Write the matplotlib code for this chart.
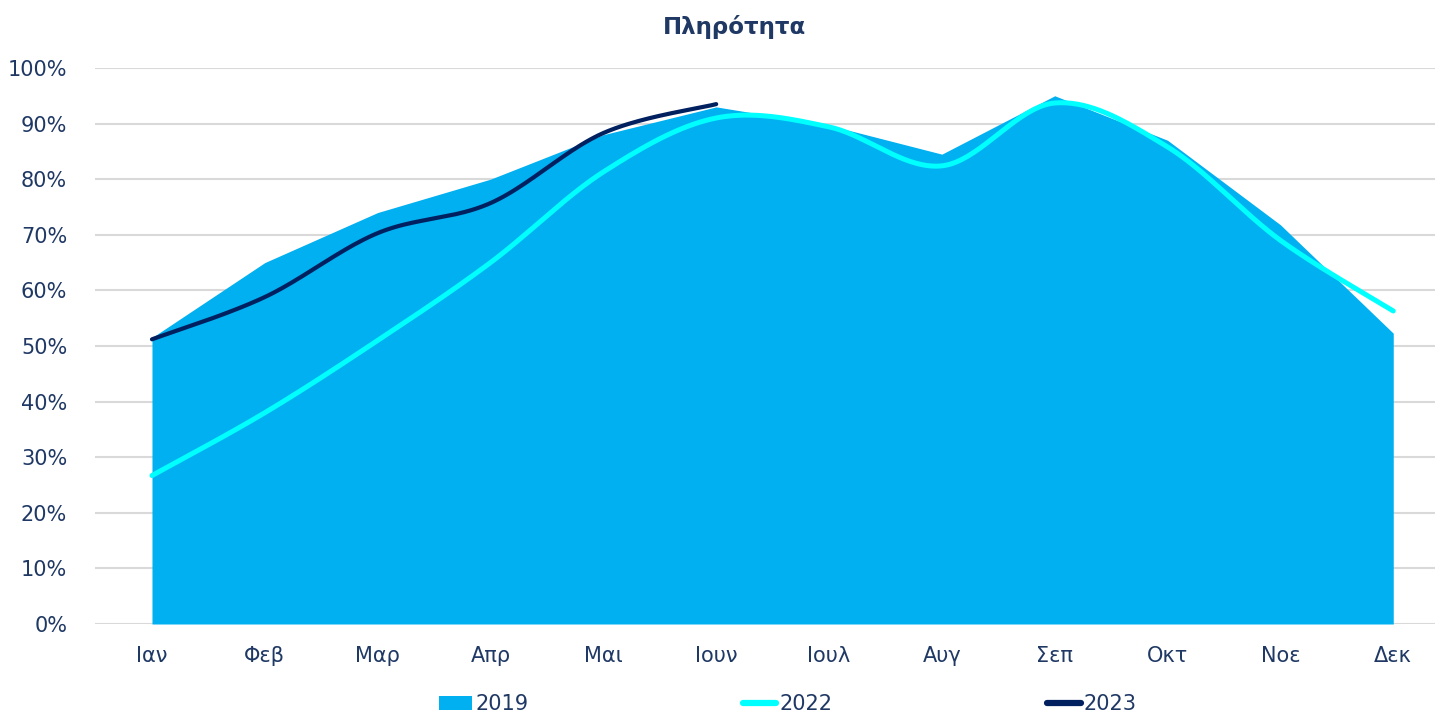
import matplotlib.pyplot as plt
import numpy as np

months = ["Ιαν", "Φεβ", "Μαρ", "Απρ", "Μαι", "Ιουν", "Ιουλ", "Αυγ", "Σεπ", "Οκτ", "Νοε", "Δεκ"]
occ_2019 = [0.515, 0.65, 0.74, 0.80, 0.88, 0.93, 0.897, 0.845, 0.95, 0.87, 0.718, 0.523]
occ_2022 = [0.267, 0.38, 0.51, 0.65, 0.813, 0.91, 0.894, 0.824, 0.937, 0.858, 0.69, 0.563]
occ_2023 = [0.512, 0.588, 0.703, 0.757, 0.883, 0.935]

text_col = "#1F3864"


def smooth(x, y, n=40):
    # Catmull-Rom style bezier, similar to Excel "smoothed line"
    x = np.asarray(x, float)
    y = np.asarray(y, float)
    px = np.concatenate([[x[0]], x, [x[-1]]])
    py = np.concatenate([[y[0]], y, [y[-1]]])
    xs, ys = [], []
    t = np.linspace(0, 1, n)
    for i in range(1, len(px) - 2):
        p0 = np.array([px[i], py[i]])
        p3 = np.array([px[i + 1], py[i + 1]])
        c1 = p0 + (np.array([px[i + 1], py[i + 1]]) - np.array([px[i - 1], py[i - 1]])) / 6
        c2 = p3 - (np.array([px[i + 2], py[i + 2]]) - np.array([px[i], py[i]])) / 6
        b = ((1 - t) ** 3)[:, None] * p0 + (3 * (1 - t) ** 2 * t)[:, None] * c1 \
            + (3 * (1 - t) * t ** 2)[:, None] * c2 + (t ** 3)[:, None] * p3
        xs.extend(b[:, 0])
        ys.extend(b[:, 1])
    return np.array(xs), np.array(ys)


fig = plt.figure(figsize=(14.35, 7.17), dpi=100)
ax = fig.add_axes([0.0662, 0.1297, 0.9338, 0.7755])

x = np.arange(len(months))
ax.fill_between(x, occ_2019, 0, color="#00B0F0", lw=0, label="2019", zorder=2)

sx, sy = smooth(x, occ_2022)
ax.plot(sx, sy, color="#00FFFF", lw=3.6, solid_capstyle="round", label="2022", zorder=3)
sx, sy = smooth(x[:len(occ_2023)], occ_2023)
ax.plot(sx, sy, color="#002060", lw=3.0, solid_capstyle="round", label="2023", zorder=4)

ax.set_xlim(-0.505, 11.37)
ax.set_ylim(0, 1.0)
ax.set_yticks(np.arange(0, 1.01, 0.1))
ax.set_yticklabels([f"{int(round(v * 100))}%" for v in np.arange(0, 1.01, 0.1)])
ax.set_xticks(x)
ax.set_xticklabels(months)
ax.grid(axis="y", color="#D9D9D9", lw=1.5, zorder=1)
ax.set_axisbelow(True)
for s in ax.spines.values():
    s.set_visible(False)
ax.tick_params(axis="both", length=0, labelsize=15, colors=text_col)
ax.tick_params(axis="y", pad=20)
ax.tick_params(axis="x", pad=16)

fig.text(0.512, 0.963, "Πληρότητα", ha="center", va="center",
         fontsize=16.5, fontweight="bold", color=text_col)

leg = fig.legend(loc="center", bbox_to_anchor=(0.549, 0.018), ncol=3, frameon=False,
                 fontsize=15, handlelength=1.6, columnspacing=10.3, handletextpad=0.15)
for t in leg.get_texts():
    t.set_color(text_col)
for h in leg.legend_handles[1:]:
    h.set_linewidth(4.5)

fig.savefig("out.png", dpi=100)
